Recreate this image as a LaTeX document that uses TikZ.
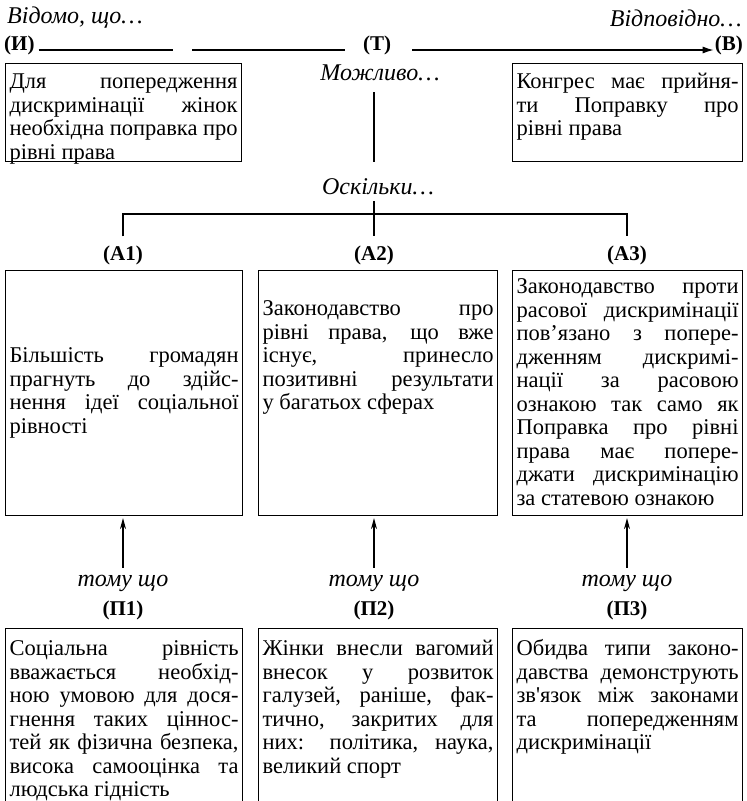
\documentclass[tikz,border=0pt]{standalone}
\usepackage{fontspec}
\setmainfont{Liberation Serif}
\usetikzlibrary{arrows.meta}
\tikzset{
  frame/.style={draw, line width=1.1pt, inner xsep=4pt, inner ysep=0pt, anchor=north west},
  lab/.style={font=\fontsize{21}{24}\selectfont\bfseries, inner sep=1pt},
  cue/.style={font=\fontsize{24}{26}\selectfont\itshape, inner sep=1pt},
  link/.style={line width=1.1pt},
  up/.style={link, -{Stealth[length=11pt,width=6pt]}}
}
\begin{document}
\begin{tikzpicture}[x=1pt, y=-1pt, font=\fontsize{22.5}{23.5}\selectfont]
\useasboundingbox (0,0) rectangle (747,801);
\clip (0,0) rectangle (747,801);
\tolerance=10000 \hbadness=10000
% top row
\node[cue, anchor=west] (known) at (6,18) {Відомо, що…};
\node[cue, anchor=east] (hence) at (743,18) {Відповідно…};
\node[lab, anchor=west] (i) at (3,45) {(И)};
\node[lab] (t) at (377,45) {(Т)};
\node[lab, anchor=east] (v) at (744,45) {(В)};
\coordinate (gapl) at (173,50);
\coordinate (gapr) at (192,50);
\coordinate (tl) at (345,50);
\coordinate (arrl) at (412,50);
\draw[link] ([xshift=3pt]i.east |- gapl) -- (gapl);
\draw[link] (gapr) -- (tl);
\draw[link, -{Latex[length=11pt,width=7pt]}] (arrl) -- (v.west |- arrl);
\node[frame] (ibox) at (5,63) {\parbox[t][98pt][t]{228pt}{\rule{0pt}{25pt}Для попередження\linebreak
  дискримінації жінок\linebreak необхідна поправка про\linebreak рівні права}};
\node[frame] (vbox) at (512,63) {\parbox[t][98pt][t]{222pt}{\rule{0pt}{25pt}Конгрес має прийня-\linebreak
  ти Поправку про\linebreak рівні права}};
% claim stem
\node[cue] (maybe) at (380,73) {Можливо…};
\node[cue] (since) at (378,187) {Оскільки…};
\coordinate (stemtop) at (374,92);
\coordinate (stembot) at (374,162);
\draw[link] (stemtop) -- (stembot);
% arguments
\node[frame] (a1box) at (5,270) {\parbox[t][245pt][c]{229pt}{Більшість громадян\linebreak
  прагнуть до здійс-\linebreak нення ідеї соціальної\linebreak рівності}};
\node[frame] (a2box) at (258,270) {\parbox[t][245pt][t]{231pt}{\rule{0pt}{45pt}Законодавство про\linebreak
  рівні права, що вже\linebreak існує, принесло\linebreak позитивні результати\linebreak у багатьох сферах}};
\node[frame] (a3box) at (512,270) {\parbox[t][245pt][t]{222pt}{\rule{0pt}{23pt}Законодавство проти\linebreak
  расової дискримінації\linebreak пов’язано з попере-\linebreak дженням дискримі-\linebreak
  нації за расовою\linebreak ознакою так само як\linebreak Поправка про рівні\linebreak
  права має попере-\linebreak джати дискримінацію\linebreak за статевою ознакою}};
\node[lab] (a1lab) at (123,255) {(А1)};
\node[lab] (a2lab) at (374,255) {(А2)};
\node[lab] (a3lab) at (627,255) {(А3)};
\coordinate (fork) at (374,214);
\draw[link] ([yshift=-5pt]since.south -| fork) -- ([yshift=8pt]a2lab.north);
\draw[link] ([yshift=8pt]a1lab.north) |- (fork) -| ([yshift=8pt]a3lab.north);
% grounds
\node[cue] (b1) at (123,583) {тому що};
\node[cue] (b2) at (374,583) {тому що};
\node[cue] (b3) at (627,583) {тому що};
\node[lab] (p1lab) at (123,610) {(П1)};
\node[lab] (p2lab) at (374,610) {(П2)};
\node[lab] (p3lab) at (627,610) {(П3)};
\draw[up] ([yshift=6pt]b1.north) -- ([yshift=-2pt]a1box.south -| b1);
\draw[up] ([yshift=6pt]b2.north) -- ([yshift=-2pt]a2box.south -| b2);
\draw[up] ([yshift=6pt]b3.north) -- ([yshift=-2pt]a3box.south -| b3);
\node[frame] (p1box) at (5,628) {\parbox[t][210pt][t]{229pt}{\rule{0pt}{27pt}Соціальна рівність\linebreak
  вважається необхід-\linebreak ною умовою для дося-\linebreak гнення таких ціннос-\linebreak
  тей як фізична безпека,\linebreak висока самооцінка та\linebreak людська гідність}};
\node[frame] (p2box) at (258,628) {\parbox[t][210pt][t]{231pt}{\rule{0pt}{27pt}Жінки внесли вагомий\linebreak
  внесок у розвиток\linebreak галузей, раніше, фак-\linebreak тично, закритих для\linebreak
  них: політика, наука,\linebreak великий спорт}};
\node[frame] (p3box) at (512,628) {\parbox[t][210pt][t]{222pt}{\rule{0pt}{27pt}Обидва типи законо-\linebreak
  давства демонструють\linebreak зв\textquotesingle язок між законами\linebreak та попередженням\linebreak
  дискримінації}};
\end{tikzpicture}
\end{document}
